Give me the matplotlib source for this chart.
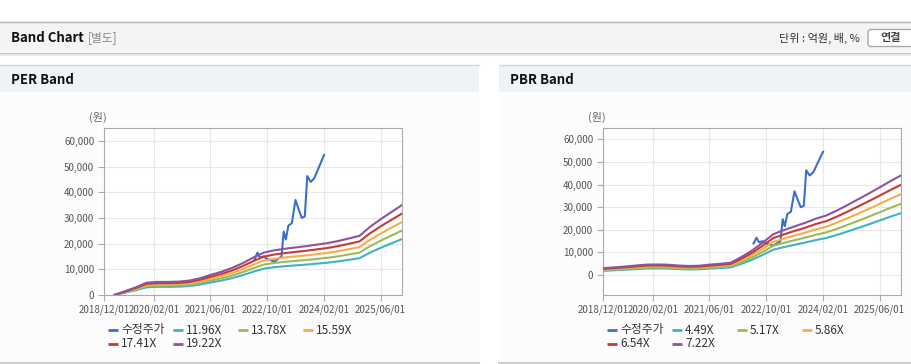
import matplotlib
matplotlib.use('Agg')
from matplotlib import pyplot as plt
from matplotlib.patches import Rectangle, FancyBboxPatch
import matplotlib.dates as mdates
from matplotlib.ticker import FuncFormatter
import pandas as pd

plt.rcParams['font.family'] = ['Noto Sans CJK KR', 'DejaVu Sans']

# figure size in pixels (dpi 100):
W, H = 912, 364

# adjusted share price (수정주가):
priceDates = pd.to_datetime(['2022-06-15', '2022-07-10', '2022-08-01', '2022-09-01', '2022-10-01',
                             '2022-11-01', '2022-12-01', '2023-01-01', '2023-02-01', '2023-02-20',
                             '2023-03-10', '2023-04-01', '2023-05-01', '2023-06-01', '2023-07-01',
                             '2023-07-25', '2023-08-20', '2023-09-10', '2023-10-10', '2023-11-10',
                             '2024-02-01'])
price = [14000, 16500, 14500, 15000, 14000, 13500, 13000, 14000, 15000, 24700,
         21600, 27000, 28000, 37000, 33000, 30000, 30600, 46300, 44000, 45500,
         54500]

# PER band: quarterly EPS times the band multiples
perDates = pd.date_range('2019-03-01', '2025-12-01', freq='3MS')
eps = [0, 78, 156, 250, 265, 265, 271, 291, 338, 406, 468, 546, 640, 754,
       858, 905, 936, 963, 989, 1020, 1051, 1093, 1145, 1197, 1379, 1535, 1680, 1821]
perMultiples = [11.96, 13.78, 15.59, 17.41, 19.22]

# PBR band: quarterly BPS times the band multiples
pbrDates = pd.date_range('2018-12-01', '2025-12-01', freq='3MS')
bps = [420, 470, 520, 580, 640, 650, 640, 590, 560, 570, 640, 690, 760, 1100,
       1500, 1980, 2500, 2750, 2980, 3200, 3450, 3650, 3960, 4300, 4650, 5000,
       5370, 5750, 6100]
pbrMultiples = [4.49, 5.17, 5.86, 6.54, 7.22]

tickDates = pd.to_datetime(['2018-12-01', '2020-02-01', '2021-06-01',
                            '2022-10-01', '2024-02-01', '2025-06-01'])
xStart, xEnd = pd.Timestamp('2018-12-01'), pd.Timestamp('2025-12-01')
yTicks = [0, 10000, 20000, 30000, 40000, 50000, 60000]

priceColour = '#3c6fcd'
bandColours = ['#3fb2c9', '#9bbb59', '#f5ae45', '#c63c33', '#8a55a0']
priceLabel = '수정주가'


def pixelAxes(fig, left, top, right, bottom):
  return fig.add_axes([left / W, 1 - bottom / H, (right - left) / W, (bottom - top) / H])


def drawBand(fig, bg, box, dates, base, multiples, ylim, legendX):
  ax = pixelAxes(fig, *box)
  ax.set_facecolor('white')
  # price first so the bands cover it where they overlap:
  ax.plot(priceDates, price, color=priceColour, lw=1.5, zorder=2)
  for multiple, colour in zip(multiples, bandColours):
    ax.plot(dates, [b * multiple for b in base], color=colour, lw=1.5, zorder=3)

  ax.set_xlim(xStart, xEnd)
  ax.set_ylim(*ylim)
  ax.set_xticks(tickDates)
  ax.xaxis.set_major_formatter(mdates.DateFormatter('%Y/%m/%d'))
  ax.set_yticks(yTicks)
  ax.yaxis.set_major_formatter(FuncFormatter(lambda v, p: '{:,.0f}'.format(v)))
  ax.grid(True, color='#e8e8e8', lw=0.8, zorder=0)
  ax.set_axisbelow(True)
  for spine in ax.spines.values():
    spine.set_color('#aaaaaa')
  ax.tick_params(labelsize=7, labelcolor='#555555', color='#aaaaaa', length=4, pad=3)

  # unit label above the y axis:
  bg.text(box[0] - 6, 117, '(원)', fontsize=8, color='#666666', ha='center', va='center')

  # legend, four entries per row:
  labels = [priceLabel] + ['%.2fX' % m for m in multiples]
  colours = [priceColour] + bandColours
  for i, (label, colour) in enumerate(zip(labels, colours)):
    x = legendX + 65 * (i % 4)
    y = 330 + 13.5 * (i // 4)
    bg.plot([x, x + 10], [y, y], color=colour, lw=2, solid_capstyle='butt')
    bg.text(x + 13, y, label, fontsize=8.5, color='#333333', va='center', ha='left')
  return ax


fig = plt.figure(figsize=(W / 100, H / 100), dpi=100)
fig.patch.set_facecolor('white')

# background layer in pixel coordinates:
bg = fig.add_axes([0, 0, 1, 1], zorder=-1)
bg.set_xlim(0, W)
bg.set_ylim(H, 0)
bg.axis('off')

# page header:
bg.plot([0, W], [22, 22], color='#b4b4b4', lw=1)
bg.add_patch(Rectangle((0, 23), W, 29, fc='#f4f4f4', ec='none'))
bg.plot([0, W], [52.5, 52.5], color='#c4c4c4', lw=1)
bg.plot([0, W], [53.5, 53.5], color='#dddddd', lw=1)
bg.plot([0, W], [54.5, 54.5], color='#eeeeee', lw=1)
bg.text(11, 38, 'Band Chart', fontsize=9.5, fontweight='bold', color='#111111', va='center')
bg.text(88, 38, '[별도]', fontsize=8.5, color='#888888', va='center')
bg.text(860, 38, '단위 : 억원, 배, %', fontsize=8, color='#333333', va='center', ha='right')
bg.add_patch(FancyBboxPatch((868, 29.5), 50, 17, boxstyle='round,pad=0,rounding_size=3',
                            fc='white', ec='#aaaaaa', lw=1))
bg.text(891, 38, '연결', fontsize=8, color='#444444', va='center', ha='center', fontweight='bold')

# the two panels:
for left, right, title in ((0, 479, 'PER Band'), (499, W, 'PBR Band')):
  bg.plot([left, right], [64.5, 64.5], color='#d4d4d4', lw=1)
  bg.add_patch(Rectangle((left, 65), right - left, 27, fc='#eff2f7', ec='none'))
  bg.add_patch(Rectangle((left, 92), right - left, 270, fc='#fcfcfc', ec='none'))
  bg.plot([left, right], [362.5, 362.5], color='#cccccc', lw=1.5)
  bg.text(left + 11, 80, title, fontsize=9.5, fontweight='bold', color='#111111', va='center')

drawBand(fig, bg, (104, 128, 402, 295), perDates, eps, perMultiples, (0, 65000), 108)
drawBand(fig, bg, (603, 128, 901, 295), pbrDates, bps, pbrMultiples, (-8800, 65000), 607)

fig.savefig('out.png', dpi=100)
